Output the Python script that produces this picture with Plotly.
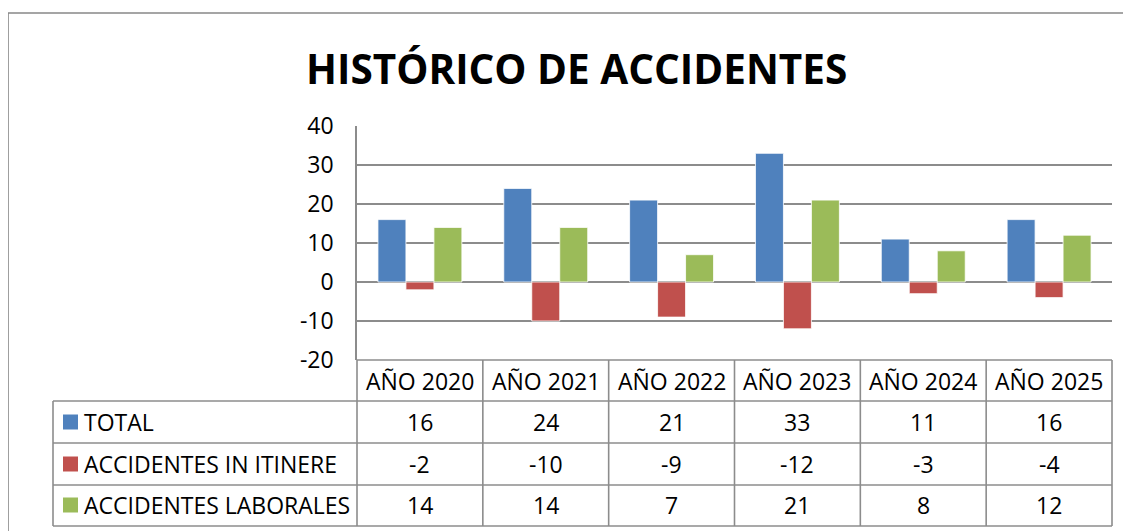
import plotly.graph_objects as go

categories = ["AÑO 2020", "AÑO 2021", "AÑO 2022", "AÑO 2023", "AÑO 2024", "AÑO 2025"]
series_names = ["TOTAL", "ACCIDENTES IN ITINERE", "ACCIDENTES LABORALES"]
total = [16, 24, 21, 33, 11, 16]
itinere = [-2, -10, -9, -12, -3, -4]
laborales = [14, 14, 7, 21, 8, 12]
y_ticks = [-20, -10, 0, 10, 20, 30, 40]
colors = ["#4F81BD", "#C0504D", "#9BBB59"]
title_text = "HISTÓRICO DE ACCIDENTES"

W, H = 1131, 531
OFF = 8  # page body margin
L, R, T, B = 357, 1112, 126, 360  # plot area in screen pixels
FONT = "Open Sans"
GRID = "#8C8C8C"


def px(xp):
    return (xp - L) / (R - L)


def py(yp):
    return (B - yp) / (B - T)


fig = go.Figure()
for name, vals, col in zip(series_names, [total, itinere, laborales], colors):
    fig.add_trace(go.Bar(x=categories, y=vals, name=name,
                         marker=dict(color=col, line=dict(color="white", width=0.8))))

shapes = []
# outer chart border (cropped on right/bottom)
shapes.append(dict(type="rect", xref="paper", yref="paper",
                   x0=px(8), x1=px(W + 20), y0=py(H + 20), y1=py(13),
                   line=dict(color="#888888", width=1.6), fillcolor="rgba(0,0,0,0)", layer="below"))

row_lines = [401, 443, 485, 526]
for yl in row_lines:
    shapes.append(dict(type="line", xref="paper", yref="paper", x0=px(53), x1=1,
                       y0=py(yl), y1=py(yl), line=dict(color=GRID, width=1.6)))
shapes.append(dict(type="line", xref="paper", yref="paper", x0=0, x1=1,
                   y0=0, y1=0, line=dict(color=GRID, width=1.6)))
shapes.append(dict(type="line", xref="paper", yref="paper", x0=px(53), x1=px(53),
                   y0=py(401), y1=py(526), line=dict(color=GRID, width=1.6)))
n = len(categories)
for i in range(n + 1):
    shapes.append(dict(type="line", xref="paper", yref="paper", x0=i / n, x1=i / n,
                       y0=0, y1=py(526), line=dict(color=GRID, width=1.6)))

annotations = []
annotations.append(dict(text=title_text, xref="paper", yref="paper", x=px(576), y=py(69),
                        xanchor="center", yanchor="middle", showarrow=False,
                        font=dict(family=FONT, size=40.5, color="black", weight="bold")))
for c in categories:
    annotations.append(dict(text=c, xref="x", yref="paper", x=c, y=py(381),
                            xanchor="center", yanchor="middle", showarrow=False,
                            font=dict(family=FONT, size=23, color="black")))
row_centers = [422, 464, 505]
for name, vals, col, yc in zip(series_names, [total, itinere, laborales], colors, row_centers):
    shapes.append(dict(type="rect", xref="paper", yref="paper",
                       x0=px(63), x1=px(78), y0=py(yc + 7.5), y1=py(yc - 7.5),
                       line=dict(width=0), fillcolor=col))
    annotations.append(dict(text=name, xref="paper", yref="paper", x=px(82), y=py(yc),
                            xanchor="left", yanchor="middle", showarrow=False,
                            font=dict(family=FONT, size=23, color="black")))
    for c, v in zip(categories, vals):
        annotations.append(dict(text=str(v), xref="x", yref="paper", x=c, y=py(yc),
                                xanchor="center", yanchor="middle", showarrow=False,
                                font=dict(family=FONT, size=23, color="black")))

fig.update_layout(
    width=W, height=H, autosize=False,
    margin=dict(l=L - OFF, r=W - R + OFF, t=T - OFF, b=H - B + OFF),
    paper_bgcolor="white", plot_bgcolor="white",
    showlegend=False,
    barmode="group", bargap=0.333, bargroupgap=0,
    shapes=shapes, annotations=annotations,
    xaxis=dict(showticklabels=False, showgrid=False, zeroline=False, showline=False,
               fixedrange=True),
    yaxis=dict(range=[-20, 40], tickmode="array", tickvals=y_ticks,
               ticktext=[str(v) for v in y_ticks], showgrid=True,
               gridcolor=GRID, gridwidth=1.6, zeroline=True, zerolinecolor=GRID,
               zerolinewidth=1.6, showline=True, linecolor=GRID, linewidth=1.6,
               ticks="", ticklabelstandoff=17,
               tickfont=dict(family=FONT, size=23, color="black")),
)

fig.write_html("out.html")
